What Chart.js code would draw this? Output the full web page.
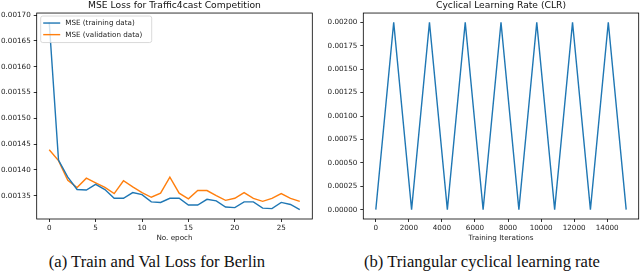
<!DOCTYPE html>
<html>
<head>
<meta charset="utf-8">
<script src="https://cdn.jsdelivr.net/npm/chart.js@4.4.0/dist/chart.umd.min.js"></script>
<style>
  html, body { margin: 0; padding: 0; background: #fff; }
  body { width: 640px; height: 273px; position: relative; overflow: hidden; }
  canvas { position: absolute; top: 0; }
  #lossChart { left: 0; }
  #clrChart { left: 320px; }
  .caption {
    position: absolute; top: 252px; width: 320px; text-align: center;
    font-family: "Liberation Serif", "Times New Roman", serif; font-size: 16.6px; color: #111;
  }
</style>
</head>
<body>
<canvas id="lossChart" width="320" height="245"></canvas>
<canvas id="clrChart" width="320" height="245"></canvas>
<div class="caption" style="left:-3px">(a) Train and Val Loss for Berlin</div>
<div class="caption" style="left:322px">(b) Triangular cyclical learning rate</div>
<script>
// --- data ---
const epochs = [0, 1, 2, 3, 4, 5, 6, 7, 8, 9, 10, 11, 12, 13, 14, 15, 16, 17, 18, 19, 20, 21, 22, 23, 24, 25, 26, 27];
const mseTrain = [0.001686, 0.001419, 0.001386, 0.001362, 0.001361, 0.001372, 0.001362, 0.001345, 0.001345, 0.001356,
                  0.001352, 0.001338, 0.001337, 0.001345, 0.001345, 0.001332, 0.001332, 0.001343, 0.001340, 0.001328,
                  0.001327, 0.001338, 0.001338, 0.001326, 0.001325, 0.001337, 0.001333, 0.001323];
const mseVal = [0.001439, 0.001418, 0.001380, 0.001366, 0.001384, 0.001375, 0.001366, 0.001354, 0.001379, 0.001367,
                0.001356, 0.001347, 0.001355, 0.001386, 0.001355, 0.001344, 0.001360, 0.001360, 0.001350, 0.001341,
                0.001345, 0.001356, 0.001345, 0.001339, 0.001345, 0.001354, 0.001345, 0.001339];
const lossYTicks = [0.00135, 0.00140, 0.00145, 0.00150, 0.00155, 0.00160, 0.00165, 0.00170];
const lossXTicks = [0, 5, 10, 15, 20, 25];

const iterations = [0, 1082, 2164, 3246, 4328, 5410, 6492, 7574, 8656, 9738, 10820, 11902, 12984, 14066, 15148];
const learningRate = [0, 0.002, 0, 0.002, 0, 0.002, 0, 0.002, 0, 0.002, 0, 0.002, 0, 0.002, 0];
const clrYTicks = [0, 0.00025, 0.0005, 0.00075, 0.001, 0.00125, 0.0015, 0.00175, 0.002];
const clrXTicks = [0, 2000, 4000, 6000, 8000, 10000, 12000, 14000];

const BLUE = '#1f77b4';
const ORANGE = '#ff7f0e';

Chart.defaults.font.family = '"DejaVu Sans", sans-serif';
Chart.defaults.font.size = 7.2;
Chart.defaults.color = '#222';

// matplotlib-like 5% margins around the data
const pad = (arr) => {
  const lo = Math.min(...arr), hi = Math.max(...arr);
  const m = (hi - lo) * 0.05;
  return { min: lo - m, max: hi + m };
};

const frame = {
  id: 'frame',
  afterDraw(chart) {
    const { ctx, chartArea: a } = chart;
    ctx.save();
    ctx.strokeStyle = '#000';
    ctx.lineWidth = 0.8;
    ctx.strokeRect(a.left, a.top, a.right - a.left, a.bottom - a.top);
    ctx.restore();
  }
};

const insideLegend = {
  id: 'insideLegend',
  afterDraw(chart) {
    const { ctx, chartArea: a } = chart;
    const x = a.left + 4, y = a.top + 3, w = 111, h = 26.5;
    ctx.save();
    ctx.fillStyle = 'rgba(255,255,255,0.8)';
    ctx.strokeStyle = '#d0d0d0';
    ctx.lineWidth = 0.8;
    ctx.beginPath();
    ctx.roundRect(x, y, w, h, 2);
    ctx.fill();
    ctx.stroke();
    ctx.font = '7.2px "DejaVu Sans"';
    ctx.textBaseline = 'middle';
    chart.data.datasets.forEach((ds, i) => {
      const ly = y + 7 + i * 11.6;
      ctx.strokeStyle = ds.borderColor;
      ctx.lineWidth = 1.4;
      ctx.beginPath();
      ctx.moveTo(x + 2.5, ly);
      ctx.lineTo(x + 19.5, ly);
      ctx.stroke();
      ctx.fillStyle = '#222';
      ctx.fillText(ds.label, x + 24.5, ly);
    });
    ctx.restore();
  }
};

const tickGrid = { drawOnChartArea: false, drawTicks: true, tickLength: 3, tickColor: '#000', tickWidth: 0.8 };

function axisSetup(width) {
  return (scale) => { scale.width = width; };
}

const titleFont = { size: 9.2, weight: 'normal' };

const lossX = pad(epochs), lossY = pad(mseTrain.concat(mseVal));
new Chart(document.getElementById('lossChart'), {
  type: 'line',
  data: {
    datasets: [
      { label: 'MSE (training data)', data: epochs.map((e, i) => ({ x: e, y: mseTrain[i] })),
        borderColor: BLUE, borderWidth: 1.4, pointRadius: 0, tension: 0 },
      { label: 'MSE (validation data)', data: epochs.map((e, i) => ({ x: e, y: mseVal[i] })),
        borderColor: ORANGE, borderWidth: 1.4, pointRadius: 0, tension: 0 }
    ]
  },
  options: {
    responsive: false,
    devicePixelRatio: 1,
    animation: false,
    layout: { padding: { left: 0, right: 7.7, top: 0, bottom: 0 } },
    plugins: {
      legend: { display: false },
      tooltip: { enabled: false },
      title: { display: true, fullSize: false, text: 'MSE Loss for Traffic4cast Competition',
               font: titleFont, color: '#111', padding: { top: 0, bottom: 2 } }
    },
    scales: {
      x: {
        type: 'linear', min: lossX.min, max: lossX.max,
        afterBuildTicks: (s) => { s.ticks = lossXTicks.map(v => ({ value: v })); },
        afterFit: (s) => { s.height = 26; },
        ticks: { padding: 2, maxRotation: 0, callback: (v) => String(v) },
        grid: tickGrid, border: { display: false },
        title: { display: true, text: 'No. epoch', color: '#222', font: { size: 7.2 }, padding: { top: 0, bottom: 2.8 } }
      },
      y: {
        min: lossY.min, max: lossY.max,
        afterBuildTicks: (s) => { s.ticks = lossYTicks.map(v => ({ value: v })); },
        afterFit: axisSetup(36.7),
        ticks: { padding: 3, callback: (v) => v.toFixed(5) },
        grid: tickGrid, border: { display: false }
      }
    }
  },
  plugins: [frame, insideLegend]
});

const clrX = pad(iterations), clrY = pad(learningRate);
new Chart(document.getElementById('clrChart'), {
  type: 'line',
  data: {
    datasets: [
      { label: 'CLR', data: iterations.map((it, i) => ({ x: it, y: learningRate[i] })),
        borderColor: BLUE, borderWidth: 1.4, pointRadius: 0, tension: 0 }
    ]
  },
  options: {
    responsive: false,
    devicePixelRatio: 1,
    animation: false,
    layout: { padding: { left: 0, right: 1.3, top: 0, bottom: 0 } },
    plugins: {
      legend: { display: false },
      tooltip: { enabled: false },
      title: { display: true, fullSize: false, text: 'Cyclical Learning Rate (CLR)',
               font: titleFont, color: '#111', padding: { top: 0, bottom: 2 } }
    },
    scales: {
      x: {
        type: 'linear', min: clrX.min, max: clrX.max,
        afterBuildTicks: (s) => { s.ticks = clrXTicks.map(v => ({ value: v })); },
        afterFit: (s) => { s.height = 26; },
        ticks: { padding: 2, maxRotation: 0, callback: (v) => String(v) },
        grid: tickGrid, border: { display: false },
        title: { display: true, text: 'Training Iterations', color: '#222', font: { size: 7.2 }, padding: { top: 0, bottom: 2.8 } }
      },
      y: {
        min: clrY.min, max: clrY.max,
        afterBuildTicks: (s) => { s.ticks = clrYTicks.map(v => ({ value: v })); },
        afterFit: axisSetup(43.3),
        ticks: { padding: 3, callback: (v) => v.toFixed(5) },
        grid: tickGrid, border: { display: false }
      }
    }
  },
  plugins: [frame]
});
</script>
</body>
</html>
